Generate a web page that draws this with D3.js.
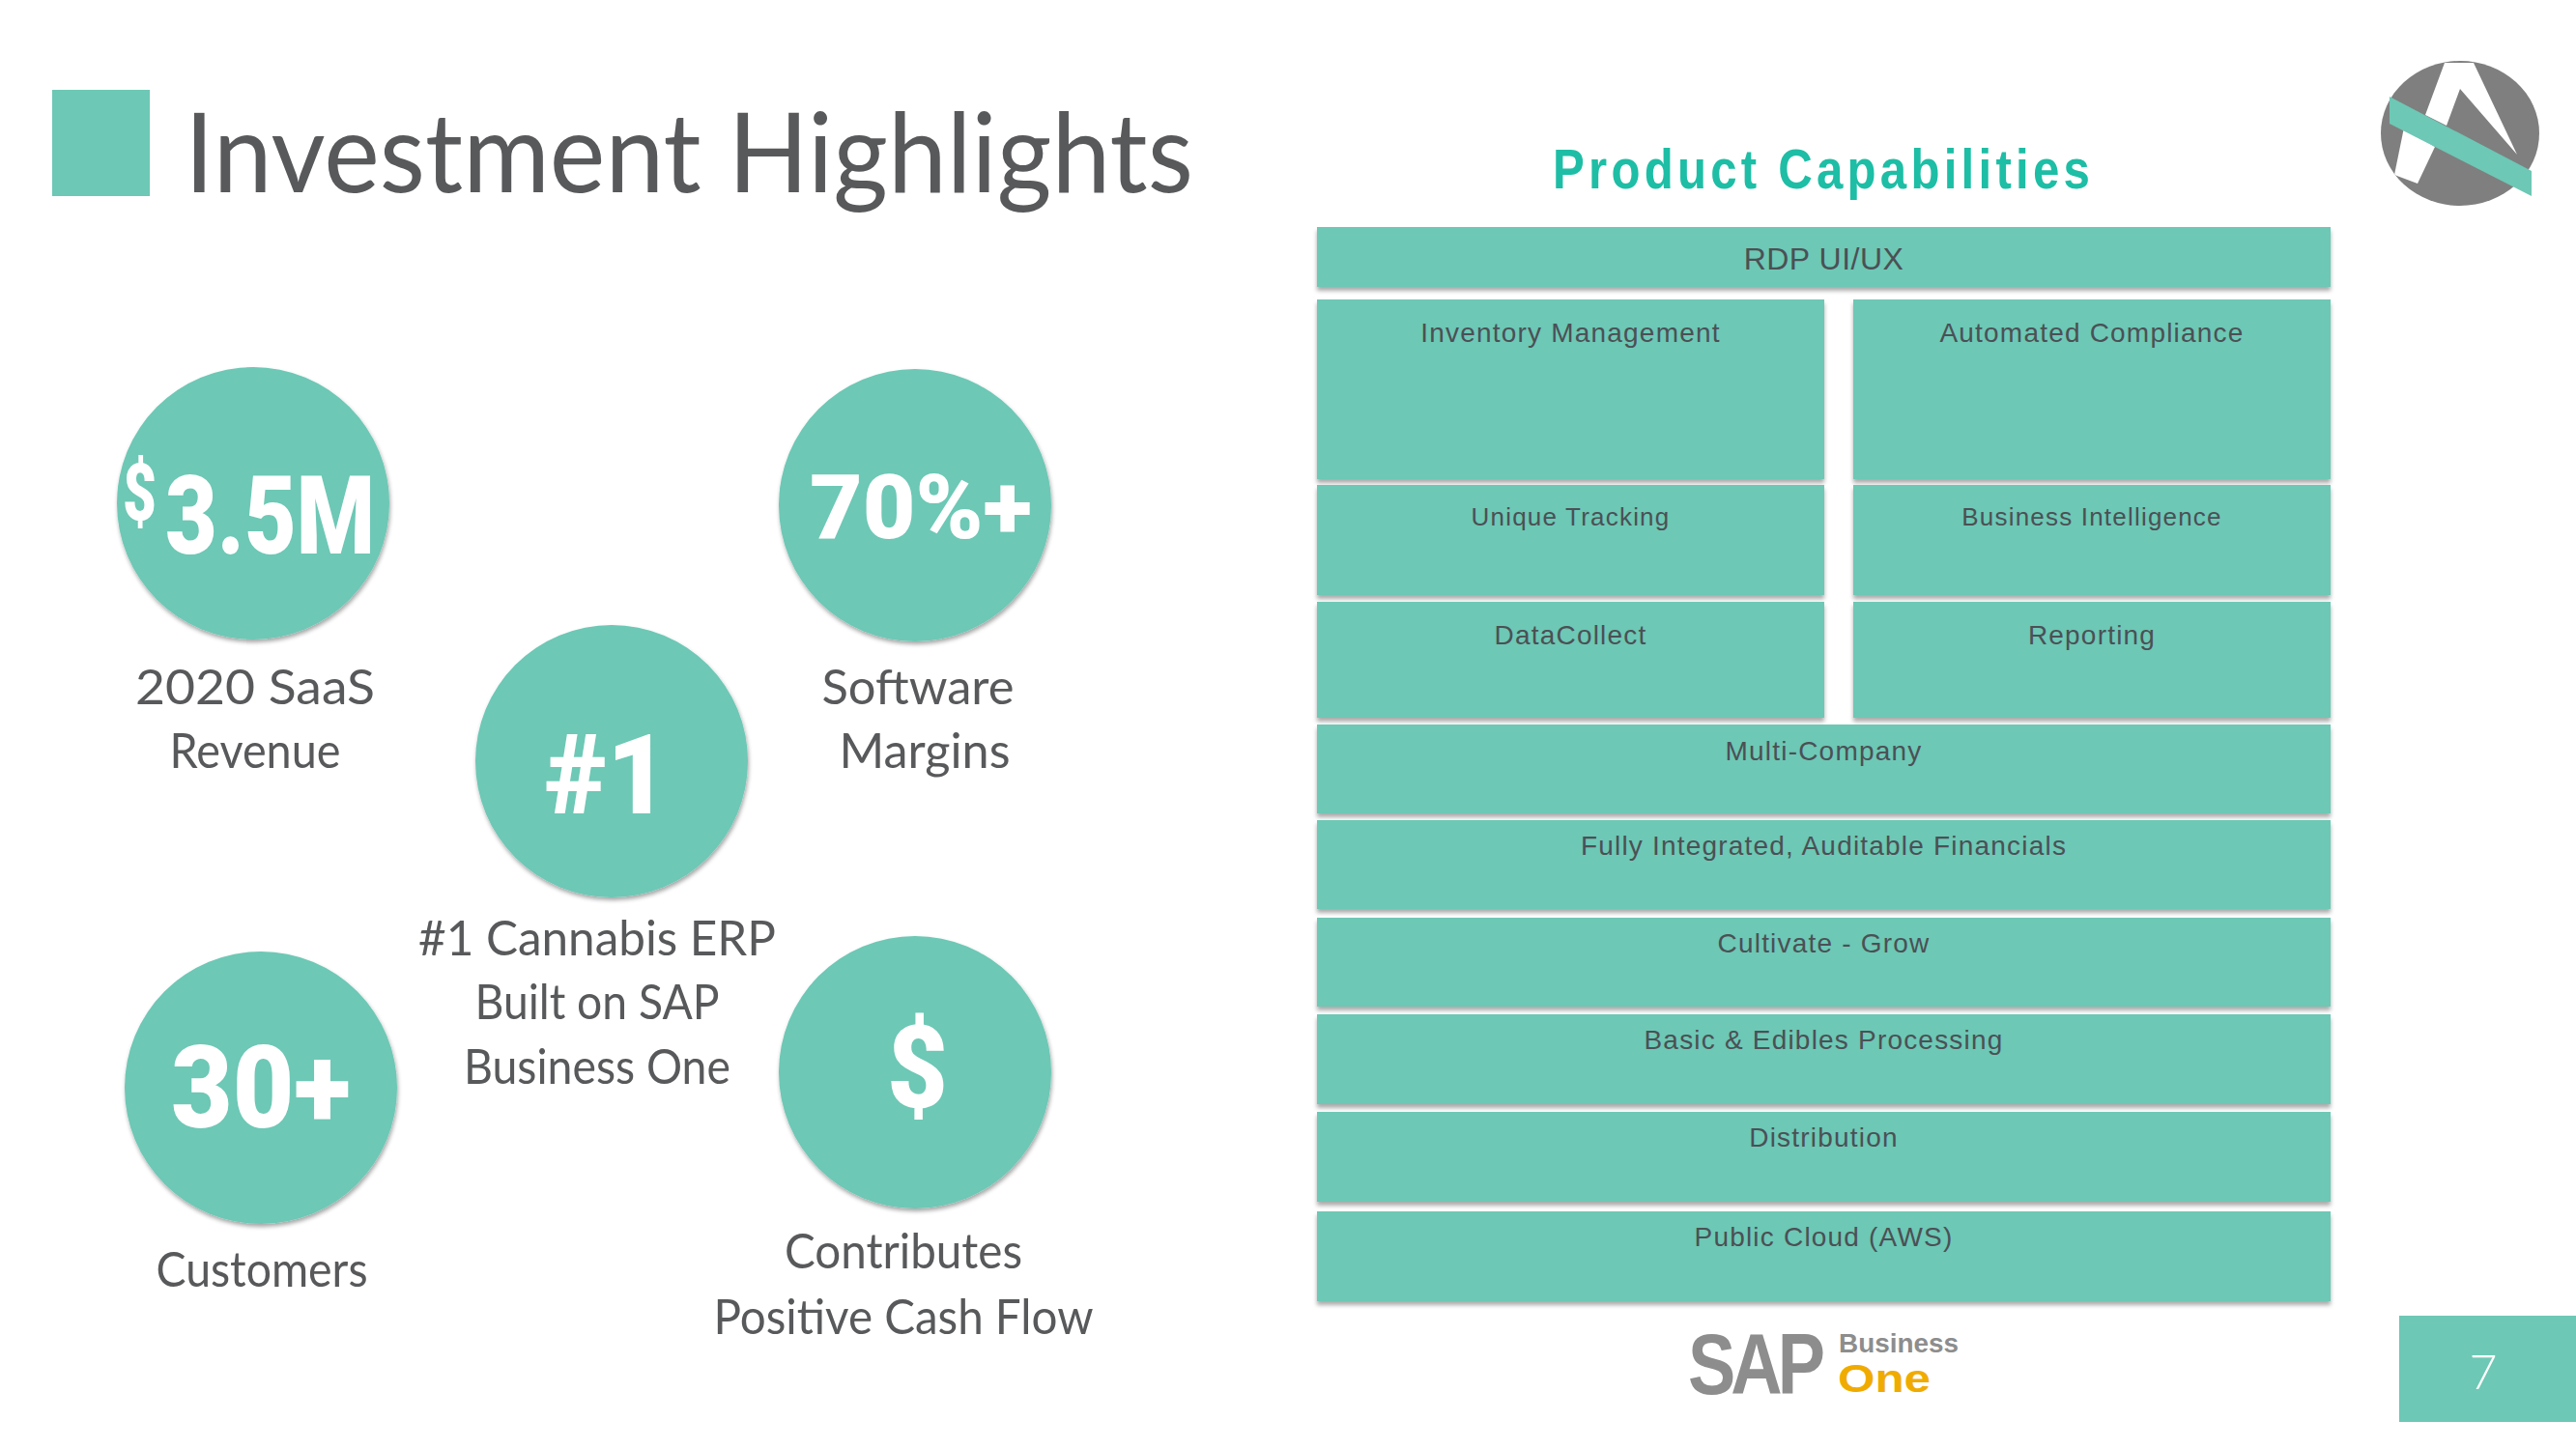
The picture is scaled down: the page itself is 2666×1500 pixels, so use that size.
<!DOCTYPE html>
<html><head><meta charset="utf-8">
<script src="https://cdn.jsdelivr.net/npm/d3@7"></script>
<style>html,body{margin:0;padding:0;background:#fff;} svg{display:block}</style>
</head><body>
<svg id="c" width="2666" height="1500"></svg>
<script>
// ---------- data ----------
const titleText = "Investment Highlights";
const panelTitle = "Product Capabilities";
const highlightValues = ["3.5M", "70%+", "#1", "30+", "$"];
const highlightPrefix = ["$", "", "", "", ""];
const highlightCaptions = [
  ["2020 SaaS", "Revenue"],
  ["Software", "Margins"],
  ["#1 Cannabis ERP", "Built on SAP", "Business One"],
  ["Customers"],
  ["Contributes", "Positive Cash Flow"]
];
const capabilityRows = [
  ["RDP UI/UX"],
  ["Inventory Management", "Automated Compliance"],
  ["Unique Tracking", "Business Intelligence"],
  ["DataCollect", "Reporting"],
  ["Multi-Company"],
  ["Fully Integrated, Auditable Financials"],
  ["Cultivate - Grow"],
  ["Basic & Edibles Processing"],
  ["Distribution"],
  ["Public Cloud (AWS)"]
];
const logoWords = ["SAP", "Business", "One"];
const pageNumber = "7";

// ---------- layout (positions / sizes / styles) ----------
const TEAL = "#6dc8b5", GRAY = "#58595b", BOXTEXT = "#4b5055";
const circleCenters = [[262,521],[947,523],[633,788],[270,1126],[947,1110]];
const circleR = 141;
const valueBoxes = [ // x0, x1, baseline, capHeight
  [171,388,573,81],[838,1068,557,66],[564,692,842,82],[177,363,1167,85],[918,981,1146,84]
];
const prefixBoxes = [[127,162,538,58],null,null,null,null];
const captionLayout = [
  {cx:[264,264], base:[729,795], w:[248,177]},
  {cx:[950,957], base:[729,795], w:[199,177]},
  {cx:[618,618,618], base:[989,1055,1122], w:[370,253,276]},
  {cx:[271], base:[1332], w:[219]},
  {cx:[935,935], base:[1313,1381], w:[246,393]}
];
const rowTop    = [235,310,502,623,750,849,950,1050,1151,1254];
const rowBottom = [297,496,616,743,842,941,1042,1143,1244,1347];
const labelOffset = [44,44,42,44,37,36,36,36,36,36];
const labelSize = [32,28,26,28,28,28,28,28,28,28];
const colFull = [1363,2412], colsTwo = [[1363,1888],[1918,2412]];

const svg = d3.select("#c");
const defs = svg.append("defs");
const f1 = defs.append("filter").attr("id","boxShadow").attr("x","-5%").attr("y","-20%").attr("width","110%").attr("height","150%");
f1.append("feDropShadow").attr("dx",0).attr("dy",4).attr("stdDeviation",2).attr("flood-color","#000").attr("flood-opacity",0.33);
const f2 = defs.append("filter").attr("id","circShadow").attr("x","-20%").attr("y","-20%").attr("width","140%").attr("height","140%");
f2.append("feDropShadow").attr("dx",1).attr("dy",3).attr("stdDeviation",2).attr("flood-color","#000").attr("flood-opacity",0.35);

svg.append("rect").attr("width",2666).attr("height",1500).attr("fill","#fff");

// helper: place text and fit to a target width
function fitText(parent, str, o) {
  const g = parent.append("g");
  const t = g.append("text").text(str)
    .attr("font-family", o.family).attr("font-size", o.size)
    .attr("font-weight", o.weight || "normal").attr("fill", o.fill)
    .attr("text-anchor", o.anchor || "start")
    .style("letter-spacing", (o.ls || 0) + "px");
  const bw = t.node().getBBox().width - (o.ls || 0);
  const s = o.w ? o.w / bw : 1;
  g.attr("transform", `translate(${o.x},${o.y}) scale(${s},1)`);
  return g;
}

// ---------- title ----------
svg.append("rect").attr("x",54).attr("y",93).attr("width",101).attr("height",110).attr("fill",TEAL);
fitText(svg, titleText, {x:191, y:199, w:1044, size:114, family:"Lato, 'Open Sans', sans-serif", fill:GRAY});

// ---------- highlight circles ----------
const hl = svg.append("g").selectAll("g").data(highlightValues).join("g");
hl.append("circle")
  .attr("cx",(d,i)=>circleCenters[i][0]).attr("cy",(d,i)=>circleCenters[i][1])
  .attr("r",circleR).attr("fill",TEAL).attr("filter","url(#circShadow)");
const numFont = "Roboto, 'DejaVu Sans', sans-serif";
hl.each(function(d,i){
  const sel = d3.select(this);
  const b = valueBoxes[i];
  fitText(sel, d, {x:b[0], y:b[2], w:b[1]-b[0], size:b[3]/0.711, family:numFont, weight:900, fill:"#fff"});
  if (highlightPrefix[i]) {
    const p = prefixBoxes[i];
    fitText(sel, highlightPrefix[i], {x:p[0], y:p[2], w:p[1]-p[0], size:p[3]/0.711, family:numFont, weight:900, fill:"#fff"});
  }
  highlightCaptions[i].forEach((line,j)=>{
    const L = captionLayout[i];
    fitText(sel, line, {x:L.cx[j], y:L.base[j], w:L.w[j], size:51, family:"Lato, 'Open Sans', sans-serif", fill:GRAY, anchor:"middle"});
  });
});

// ---------- product capabilities ----------
fitText(svg, panelTitle, {x:1607, y:195, w:556, size:58, weight:"bold", family:"'Liberation Sans', Arial, sans-serif", fill:"#1dbea5", ls:5});

const cells = [];
capabilityRows.forEach((row, r) => row.forEach((label, c) => {
  const ext = row.length === 1 ? colFull : colsTwo[c];
  cells.push({label, r, x0: ext[0], x1: ext[1]});
}));
const yScale = d3.scaleOrdinal().domain(d3.range(capabilityRows.length)).range(rowTop);
const cg = svg.append("g").selectAll("g").data(cells).join("g");
cg.append("rect")
  .attr("x", d => d.x0).attr("y", d => yScale(d.r))
  .attr("width", d => d.x1 - d.x0).attr("height", d => rowBottom[d.r] - rowTop[d.r])
  .attr("fill", TEAL).attr("filter","url(#boxShadow)");
cg.append("text")
  .attr("x", d => (d.x0 + d.x1) / 2).attr("y", d => yScale(d.r) + labelOffset[d.r])
  .attr("text-anchor","middle")
  .attr("font-family","'Liberation Sans', Arial, sans-serif")
  .attr("font-size", d => labelSize[d.r])
  .style("letter-spacing", d => d.r === 0 ? "0.5px" : "1.2px")
  .attr("fill", BOXTEXT)
  .text(d => d.label);

// ---------- SAP Business One logo ----------
fitText(svg, logoWords[0], {x:1747, y:1443, w:145, size:89, weight:"bold", family:"'Liberation Sans', Arial, sans-serif", fill:"#8d8d8d", ls:-6});
fitText(svg, logoWords[1], {x:1903, y:1400, w:124, size:27, weight:"bold", family:"'Liberation Sans', Arial, sans-serif", fill:"#8d8d8d"});
fitText(svg, logoWords[2], {x:1902, y:1441, w:96, size:40, weight:"bold", family:"'Liberation Sans', Arial, sans-serif", fill:"#f0ab00"});

// ---------- company logo (top right) ----------
const lg = svg.append("g");
defs.append("clipPath").attr("id","logoClip").append("ellipse")
  .attr("cx",2546).attr("cy",138).attr("rx",82).attr("ry",75);
lg.append("ellipse").attr("cx",2546).attr("cy",138).attr("rx",82).attr("ry",75).attr("fill","#7f7f7f");
const line = d3.line();
const wg = lg.append("g").attr("clip-path","url(#logoClip)");
wg.append("path").attr("fill","#fff")
  .attr("d", line([[2530,65],[2560,65],[2605,160],[2546,92],[2532,130],[2510,119]]) + "Z");
wg.append("path").attr("fill","#fff")
  .attr("d", line([[2488,132],[2520,152],[2502,190],[2478,181]]) + "Z");
lg.append("path").attr("fill",TEAL)
  .attr("d", line([[2473,100],[2620,177],[2620,203],[2473,128]]) + "Z");

// ---------- page number ----------
svg.append("rect").attr("x",2483).attr("y",1362).attr("width",183).attr("height",110).attr("fill",TEAL);
svg.append("text").attr("x",2570).attr("y",1438).attr("text-anchor","middle")
  .attr("font-family","Lato, sans-serif").attr("font-weight",300).attr("font-size",50)
  .attr("fill","#fff").text(pageNumber);
</script>
</body></html>
